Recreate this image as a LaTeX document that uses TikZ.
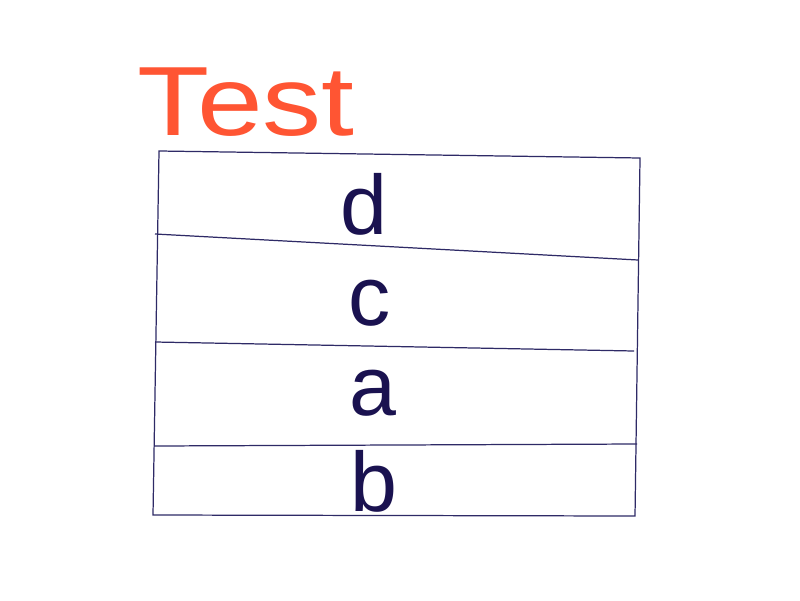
\documentclass[tikz,border=0pt]{standalone}
\usepackage{fontspec}
\setmainfont{Liberation Sans}
\definecolor{ink}{HTML}{1A1250}
\definecolor{rule}{HTML}{2E2A66}
\definecolor{title}{HTML}{FF5533}
\tikzset{
  boxline/.style={draw=rule, line width=0.35pt},
  letter/.style={text=ink, font=\fontsize{24}{28}\selectfont, inner sep=0pt},
}
\begin{document}
\begin{tikzpicture}[x=0.1mm, y=-0.1mm]
\useasboundingbox (0,0) rectangle (800,600);
\fill[white] (0,0) rectangle (800,600);
% title
\node[text=title, font=\fontsize{28}{32}\selectfont, xscale=1.2, inner sep=0pt, anchor=base west] (ttl) at (137,135) {Test};
% box corners
\coordinate (tl) at (159,151);
\coordinate (tr) at (640,158);
\coordinate (br) at (635,516);
\coordinate (bl) at (153,515);
\coordinate (l1) at (155,234); \coordinate (r1) at (638,260);
\coordinate (l2) at (155,342); \coordinate (r2) at (634,351);
\coordinate (l3) at (154,446); \coordinate (r3) at (637,444);
\draw[boxline] (tl) -- (tr) -- (br) -- (bl) -- cycle;
\draw[boxline] (l1) -- (r1);
\draw[boxline] (l2) -- (r2);
\draw[boxline] (l3) -- (r3);
% letters
\node[letter, anchor=base] (d) at (364,234) {d};
\node[letter, anchor=base] (c) at (370,325) {c};
\node[letter, anchor=base] (a) at (373,415) {a};
\node[letter, anchor=base] (b) at (374,511) {b};
\end{tikzpicture}
\end{document}
